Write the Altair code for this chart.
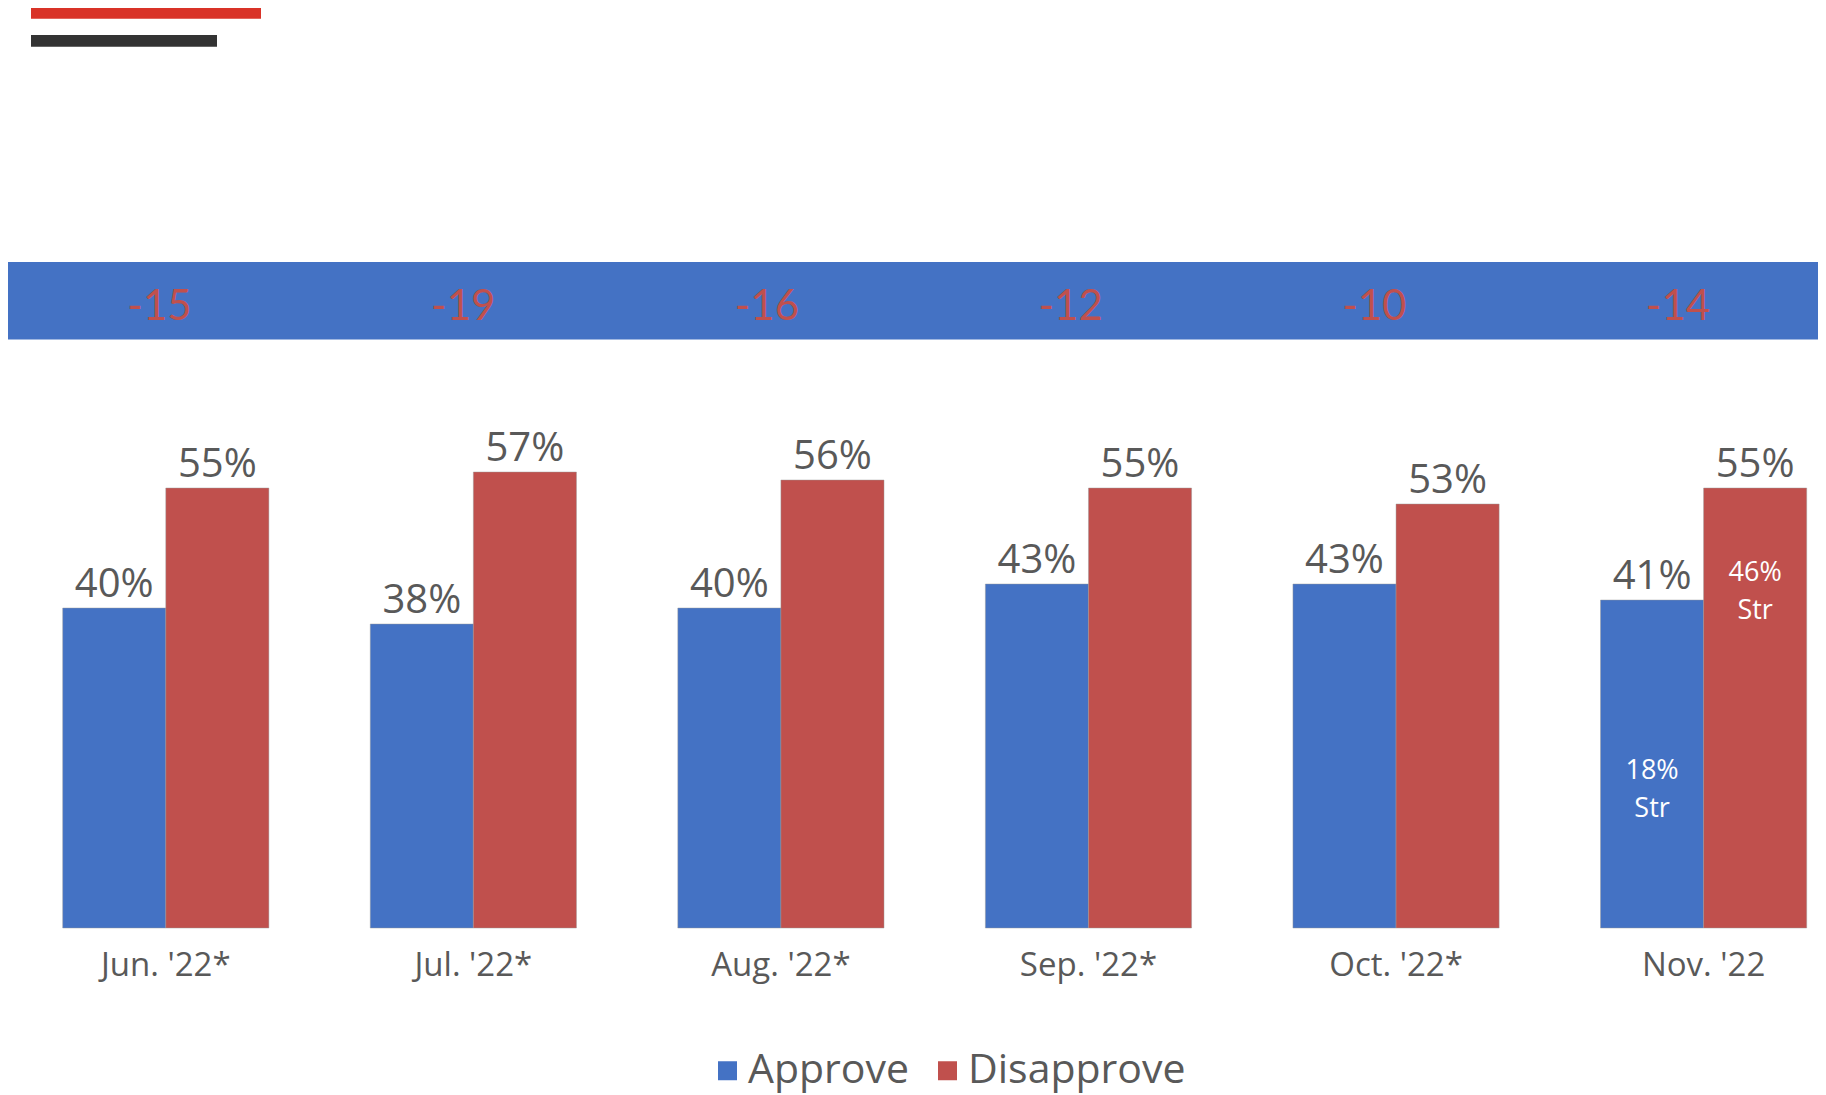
import altair as alt
import pandas as pd

# ---- data ----
months = ["Jun. '22*", "Jul. '22*", "Aug. '22*", "Sep. '22*", "Oct. '22*", "Nov. '22"]
approve = [40, 38, 40, 43, 43, 41]
disapprove = [55, 57, 56, 55, 53, 55]
net = [-15, -19, -16, -12, -10, -14]
series = ["Approve", "Disapprove"]
colors = ["#4472C4", "#C0504D"]
strong_month = "Nov. '22"
strong_approve = "18%\nStr"
strong_disapprove = "46%\nStr"

rows = []
for m, a, d in zip(months, approve, disapprove):
    rows.append({"month": m, "series": "Approve", "value": a, "label": f"{a}%"})
    rows.append({"month": m, "series": "Disapprove", "value": d, "label": f"{d}%"})
df = pd.DataFrame(rows)
net_df = pd.DataFrame({"month": months, "net": [str(n) for n in net]})
strong_a_df = pd.DataFrame({"month": [strong_month], "series": ["Approve"], "text": [strong_approve]})
strong_d_df = pd.DataFrame({"month": [strong_month], "series": ["Disapprove"], "text": [strong_disapprove]})
one = pd.DataFrame({"k": [0]})

FONT = "Open Sans"
GRAY = "#595959"

x_scale = alt.Scale(domain=months, range=[54.7, 1798.7], paddingInner=0.3296, paddingOuter=0)
xo_scale = alt.Scale(domain=series, paddingInner=0, paddingOuter=0)
y_scale = alt.Scale(domain=[0, 115], nice=False, zero=True)

x_axis = alt.Axis(title=None, domain=False, ticks=False, grid=False, labelAngle=0,
                  labelFontSize=33, labelFont=FONT, labelColor=GRAY, labelPadding=21)

bars = alt.Chart(df).mark_bar(stroke="#9a9a9a", strokeOpacity=0.45, strokeWidth=1).encode(
    x=alt.X("month:N", sort=months, scale=x_scale, axis=x_axis),
    xOffset=alt.XOffset("series:N", sort=series, scale=xo_scale),
    y=alt.Y("value:Q", scale=y_scale, axis=None),
    color=alt.Color("series:N", sort=series,
                    scale=alt.Scale(domain=series, range=colors),
                    legend=alt.Legend(orient="none", legendX=699, legendY=1042,
                                      direction="horizontal", title=None,
                                      symbolType="square", symbolSize=361,
                                      symbolStrokeWidth=0, symbolOpacity=1,
                                      labelFontSize=41, labelFont=FONT, labelColor=GRAY,
                                      labelOffset=0, columnPadding=17, padding=0,
                                      labelLimit=400)),
)

values = alt.Chart(df).mark_text(font=FONT, fontSize=40, color=GRAY, baseline="alphabetic", dy=-11).encode(
    x=alt.X("month:N", sort=months, scale=x_scale, axis=None),
    xOffset=alt.XOffset("series:N", sort=series, scale=xo_scale),
    y=alt.Y("value:Q", scale=y_scale, axis=None),
    text="label:N",
)

strong_a = alt.Chart(strong_a_df).mark_text(font=FONT, fontSize=27, color="white", baseline="alphabetic",
                                            lineBreak="\n", lineHeight=38).encode(
    x=alt.X("month:N", sort=months, scale=x_scale, axis=None),
    xOffset=alt.XOffset("series:N", sort=series, scale=xo_scale),
    y=alt.value(771),
    text="text:N",
)
strong_d = alt.Chart(strong_d_df).mark_text(font=FONT, fontSize=27, color="white", baseline="alphabetic",
                                            lineBreak="\n", lineHeight=38).encode(
    x=alt.X("month:N", sort=months, scale=x_scale, axis=None),
    xOffset=alt.XOffset("series:N", sort=series, scale=xo_scale),
    y=alt.value(572.7),
    text="text:N",
)

band = alt.Chart(one).mark_rect(color="#4472C4").encode(
    x=alt.value(0), x2=alt.value(1810), y=alt.value(254), y2=alt.value(331.5)
)
red_line = alt.Chart(one).mark_rect(color="#D93328").encode(
    x=alt.value(23), x2=alt.value(253), y=alt.value(0), y2=alt.value(10.7)
)
dark_line = alt.Chart(one).mark_rect(color="#333333").encode(
    x=alt.value(23), x2=alt.value(209), y=alt.value(27), y2=alt.value(38.7)
)

net_text = alt.Chart(net_df).mark_text(font="Lato", fontSize=42, color="#C0504D",
                                       baseline="alphabetic").encode(
    x=alt.X("month:N", sort=months,
            scale=alt.Scale(type="point", domain=months, range=[151.5, 1670], padding=0),
            axis=None),
    y=alt.value(312),
    text="net:N",
)

chart = alt.layer(
    band, red_line, dark_line, bars, values, strong_a, strong_d, net_text
).resolve_scale(x="independent").properties(
    width=1810, height=920,
    autosize=alt.AutoSizeParams(type="none"),
    padding={"left": 0, "top": 0, "right": 0, "bottom": 167},
).configure_view(stroke=None)

chart.save("out.html", embed_options={"renderer": "svg", "actions": False})
